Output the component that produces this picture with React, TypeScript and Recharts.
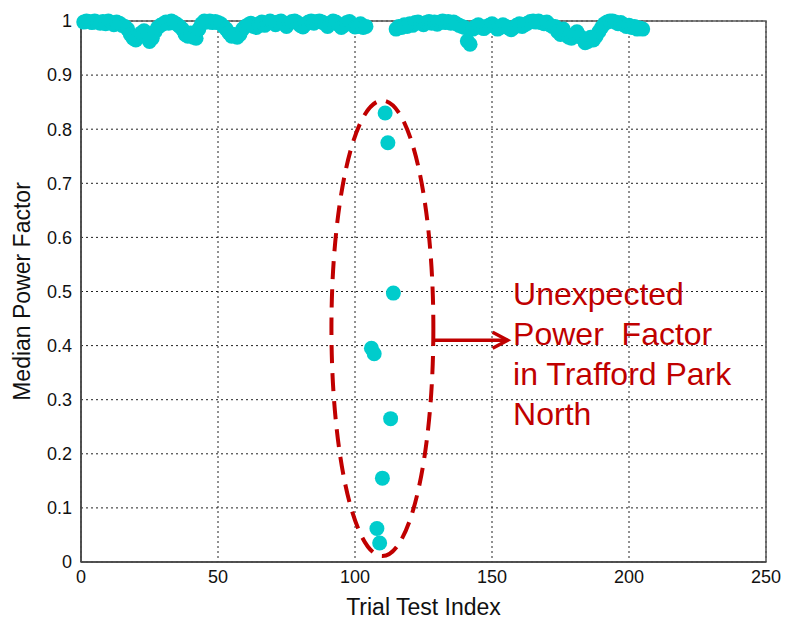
import React from 'react';
import {
  ScatterChart, Scatter, XAxis, YAxis, CartesianGrid, ReferenceArea, ReferenceLine, ReferenceDot,
} from 'recharts';

// Trial index 1..104 (median power factor)
const bandAStart = 1;
const bandAValues = [
  0.998, 1.0, 0.999, 0.997, 1.0, 0.998, 0.996, 0.999, 0.995, 1.0, 0.997, 0.993, 0.998, 0.996, 0.992,
  0.99, 0.985, 0.975, 0.968, 0.965, 0.972, 0.978, 0.982, 0.97, 0.962, 0.968, 0.98,
  0.988, 0.992, 0.995, 0.998, 0.996, 1.0, 0.997, 0.994, 0.99,
  0.985, 0.975, 0.972, 0.978, 0.97, 0.968, 0.985,
  0.995, 1.0, 0.998, 1.0, 0.997, 0.999,
  0.997, 0.995, 0.99, 0.985, 0.978, 0.972, 0.975, 0.97, 0.975, 0.985, 0.99,
  0.993, 0.996, 0.99, 0.988, 0.995, 0.998, 0.992, 0.996, 1.0, 0.997, 0.993, 0.998, 1.0, 0.995, 0.99,
  0.996, 0.999, 1.0, 0.997, 0.992, 0.989, 0.994, 0.998, 1.0, 0.996, 0.999, 1.0, 0.998, 0.995,
  0.99, 0.996, 1.0, 0.998, 0.993, 0.988, 0.992, 0.997, 0.999, 0.994, 0.989, 0.99, 0.995, 0.988, 0.99,
];

// Trial index 115..205
const bandBStart = 115;
const bandBValues = [
  0.985, 0.99, 0.988, 0.993, 0.99, 0.995, 0.992, 0.997, 0.998, 0.996, 0.993, 0.997, 0.999, 0.996, 0.998, 0.994,
  0.998, 1.0, 0.997, 0.999, 0.996, 0.998, 0.995, 0.992, 0.99, 0.988,
  0.963, 0.957,
  0.985, 0.99, 0.993, 0.988, 0.986, 0.99, 0.992, 0.995, 0.99, 0.985, 0.988, 0.993, 0.99, 0.987, 0.984, 0.988, 0.992, 0.995, 0.99, 0.993,
  0.996, 0.999, 1.0, 0.998, 1.0, 0.997, 0.995, 0.998, 0.993, 0.99,
  0.99, 0.98, 0.975, 0.985, 0.975, 0.97, 0.968, 0.975, 0.98, 0.972, 0.968, 0.96, 0.962, 0.97, 0.965, 0.972,
  0.98, 0.988, 0.995, 0.998, 1.0, 1.0, 0.998, 0.995, 0.997, 0.993, 0.99, 0.992, 0.988, 0.99, 0.985, 0.987, 0.985,
];

// Unexpected power factor (Trafford Park North)
const outlierIndex = [106, 107, 108, 109, 110, 111, 112, 113, 114];
const outlierValues = [0.395, 0.385, 0.062, 0.035, 0.155, 0.83, 0.775, 0.265, 0.497];

const xTicks = [0, 50, 100, 150, 200, 250];
const yTicks = [0, 0.1, 0.2, 0.3, 0.4, 0.5, 0.6, 0.7, 0.8, 0.9, 1];

const annotationLines = ['Unexpected', 'Power  Factor', 'in Trafford Park', 'North'];
const ellipseBox = { x1: 91.4, x2: 128.6, y1: 0.011, y2: 0.853 };
const arrowSeg = [{ x: 128.5, y: 0.41 }, { x: 155.7, y: 0.41 }];
const textAnchorPt = { x: 157.7, y: 0.475 };

const data = [
  ...bandAValues.map((v, i) => ({ x: bandAStart + i, y: v })),
  ...outlierIndex.map((idx, i) => ({ x: idx, y: outlierValues[i] })),
  ...bandBValues.map((v, i) => ({ x: bandBStart + i, y: v })),
];

const CYAN = '#00CCCC';
const RED = '#C00000';
const FONT = '"Liberation Sans", Arial, sans-serif';

const Dot = (p: any) => <circle cx={p.cx} cy={p.cy} r={7.5} fill={CYAN} />;

export default function App() {
  return (
    <div style={{ position: 'absolute', left: 0, top: 0, width: 785, height: 623, background: '#fff' }}>
      <ScatterChart width={785} height={623} margin={{ top: 21, right: 19, left: 0, bottom: 0 }}
        style={{ fontFamily: FONT }}>
        <CartesianGrid stroke="#222" strokeDasharray="2 3" strokeWidth={1} />
        <XAxis type="number" dataKey="x" domain={[0, 250]} ticks={xTicks} height={61}
          tickLine={false} axisLine={{ stroke: '#444', strokeWidth: 1.5 }}
          tick={{ fontSize: 18, fill: '#111', fontFamily: FONT }} tickMargin={2}
          label={{ value: 'Trial Test Index', position: 'insideBottom', offset: 8, style: { fontSize: 23, fill: '#111', fontFamily: FONT } }} />
        <YAxis type="number" dataKey="y" domain={[0, 1]} ticks={yTicks} width={81}
          tickLine={false} axisLine={{ stroke: '#444', strokeWidth: 1.5 }}
          tick={{ fontSize: 18, fill: '#111', fontFamily: FONT }} tickMargin={3}
          label={{ value: 'Median Power Factor', angle: -90, position: 'insideLeft', offset: 22, style: { textAnchor: 'middle', fontSize: 23, fill: '#111', fontFamily: FONT } }} />
        <ReferenceArea x1={0} x2={250} y1={0} y2={1} fill="none" stroke="#555" strokeWidth={1.5} fillOpacity={0} />
        <ReferenceArea x1={ellipseBox.x1} x2={ellipseBox.x2} y1={ellipseBox.y1} y2={ellipseBox.y2}
          shape={(p: any) => (
            <ellipse cx={p.x + p.width / 2} cy={p.y + p.height / 2} rx={p.width / 2} ry={p.height / 2}
              fill="none" stroke={RED} strokeWidth={4} strokeDasharray="18 10" />
          )} />
        <ReferenceLine segment={arrowSeg}
          shape={(p: any) => (
            <g>
              <line x1={p.x1} y1={p.y1} x2={p.x2} y2={p.y2} stroke={RED} strokeWidth={3.5} />
              <path d={`M${p.x2 - 15},${p.y2 - 8} L${p.x2},${p.y2} L${p.x2 - 15},${p.y2 + 8}`} fill="none" stroke={RED} strokeWidth={3.5} />
            </g>
          )} />
        <ReferenceDot x={textAnchorPt.x} y={textAnchorPt.y}
          shape={(p: any) => (
            <text x={p.cx} y={p.cy} fill={RED} fontSize={32} fontFamily={FONT}>
              {annotationLines.map((l, i) => (
                <tspan key={i} x={p.cx} dy={i === 0 ? 0 : 40} style={{ whiteSpace: 'pre' }}>{l}</tspan>
              ))}
            </text>
          )} />
        <Scatter data={data} shape={Dot} isAnimationActive={false} />
      </ScatterChart>
    </div>
  );
}
